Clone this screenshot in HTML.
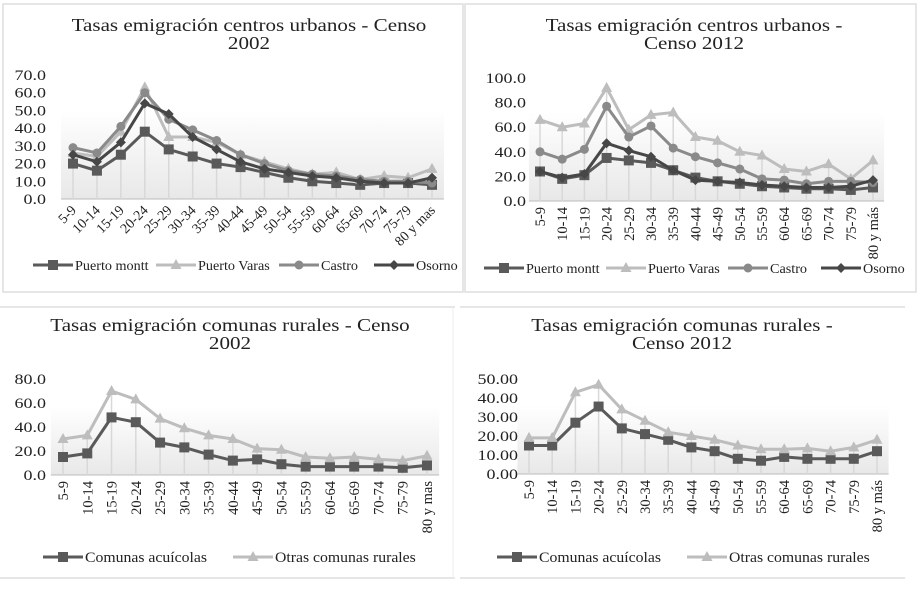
<!DOCTYPE html>
<html><head><meta charset="utf-8">
<style>
html,body{margin:0;padding:0;background:#fff;}
svg{display:block;font-family:"Liberation Serif",serif;}
</style></head>
<body>
<svg id="c" width="919" height="589" viewBox="0 0 919 589" xmlns="http://www.w3.org/2000/svg">
<defs>
<linearGradient id="bg" x1="0" y1="0" x2="0" y2="1">
<stop offset="0" stop-color="#fff"/><stop offset="1" stop-color="#e8e8e8"/>
</linearGradient>
</defs>
<rect x="3" y="4" width="460" height="288" fill="none" stroke="#ddd" stroke-width="1.5"/>
<rect x="465" y="4" width="451" height="288" fill="none" stroke="#ddd" stroke-width="1.5"/>
<line x1="0" y1="307" x2="455" y2="307" stroke="#ddd" stroke-width="1.5"/>
<line x1="0" y1="578" x2="455" y2="578" stroke="#ddd" stroke-width="1.5"/>
<line x1="453" y1="307" x2="453" y2="578" stroke="#eee" stroke-width="1"/>
<line x1="460" y1="307" x2="905" y2="307" stroke="#ddd" stroke-width="1.5"/>
<line x1="460" y1="578" x2="905" y2="578" stroke="#ddd" stroke-width="1.5"/>
</svg>
<script>
const categories2002 = ["5-9","10-14","15-19","20-24","25-29","30-34","35-39","40-44","45-49","50-54","55-59","60-64","65-69","70-74","75-79","80 y mas"];
const categories2012 = ["5-9","10-14","15-19","20-24","25-29","30-34","35-39","40-44","45-49","50-54","55-59","60-64","65-69","70-74","75-79","80 y más"];

const urb02PuertoMontt = [20,16,25,38,28,24,20,18,15,12,10,9,8,9,9,8];
const urb02PuertoVaras = [26,24,38,63,35,35,32,25,21,17,14,15,11,13,12,17];
const urb02Castro = [29,26,41,60,45,39,33,25,20,16,14,13,11,10,10,9];
const urb02Osorno = [25,21,32,54,48,35,28,21,17,15,13,12,10,9,9,12];
const urb02Ticks = ["0.0","10.0","20.0","30.0","40.0","50.0","60.0","70.0"];

const urb12PuertoMontt = [24,18,21,35,33,31,25,19,16,14,12,11,10,10,9,11];
const urb12PuertoVaras = [66,60,63,92,58,70,72,52,49,40,37,26,24,30,18,33];
const urb12Castro = [40,34,42,77,52,61,43,36,31,26,18,17,14,16,16,15];
const urb12Osorno = [24,19,22,47,41,36,25,17,16,15,13,12,11,11,12,17];
const urb12Ticks = ["0.0","20.0","40.0","60.0","80.0","100.0"];

const rur02Acuicolas = [15,18,48,44,27,23,17,12,13,9,7,7,7,7,6,8];
const rur02Otras = [30,33,70,63,47,39,33,30,22,21,15,14,15,13,12,16];
const rur02Ticks = ["0.0","20.0","40.0","60.0","80.0"];

const rur12Acuicolas = [15,15,27,35.5,24,21,18,14,12,8,7,9,8,8,8,12];
const rur12Otras = [19,19,43,47,34,28,22,20,18,15,13,13,13.5,12,14,18];
const rur12Ticks = ["0.00","10.00","20.00","30.00","40.00","50.00"];

const svg = document.getElementById('c');
const NS = 'http://www.w3.org/2000/svg';
function mk(tag, attrs, parent){
  const e = document.createElementNS(NS, tag);
  for (const k in attrs) e.setAttribute(k, attrs[k]);
  (parent||svg).appendChild(e);
  return e;
}
function stretch(t, f){
  const w = t.getComputedTextLength();
  if (w > 0){ t.setAttribute('textLength', (w*f).toFixed(1)); t.setAttribute('lengthAdjust','spacingAndGlyphs'); }
}
function marker(g, kind, x, y, color){
  let e;
  if (kind==='square') e = mk('rect',{x:x-5,y:y-5,width:10,height:10,fill:color},g);
  else if (kind==='tri') e = mk('polygon',{points:`${x},${y-6} ${x-5.5},${y+4} ${x+5.5},${y+4}`,fill:color},g);
  else if (kind==='circle') e = mk('circle',{cx:x,cy:y,r:4.5,fill:color},g);
  else e = mk('polygon',{points:`${x},${y-5} ${x+5},${y} ${x},${y+5} ${x-5},${y}`,fill:color},g);
  return e;
}
function chart(cfg){
  const g = mk('g',{});
  
  
  const n = cfg.cats.length;
  const xs = i => cfg.x0 + (cfg.x1-cfg.x0)*i/(n-1);
  const ys = v => cfg.y0 - (cfg.y0-cfg.yTop)*v/cfg.max;
  cfg.title.forEach((t,i)=>{
    const tt = mk('text',{x:cfg.tx,y:cfg.ty+i*18,'text-anchor':'middle','font-size':18,fill:'#222'},g);
    tt.textContent = t;
    
    
    stretch(tt, 1.17);
  });
  const half = (cfg.x1-cfg.x0)/(n-1)/2;
  const bgr = mk('rect',{x:cfg.x0-half,y:ys(cfg.max*0.72),width:cfg.x1-cfg.x0+2*half,height:cfg.y0-ys(cfg.max*0.72),fill:'url(#bg)'},g);
  
  
  cfg.ticks.forEach((t,i)=>{
    const v = cfg.max*i/(cfg.ticks.length-1);
    const tt = mk('text',{x:cfg.yl,y:ys(v)+5,'text-anchor':'end','font-size':15,fill:'#222'},g);
    tt.textContent = t;
    
    
    stretch(tt, 1.2);
  });
  const ax = mk('line',{x1:cfg.x0-half,y1:cfg.y0,x2:cfg.x1+half,y2:cfg.y0,stroke:'#bbb','stroke-width':1},g);
  
  
  cfg.cats.forEach((c,i)=>{
    const m = Math.max(...cfg.series.map(s=>s.data[i]));
    const dl = mk('line',{x1:xs(i),y1:ys(m),x2:xs(i),y2:cfg.y0,stroke:'#d8d8d8','stroke-width':1.5},g);
    
    
  });
  cfg.cats.forEach((c,i)=>{
    let tt;
    if (cfg.rot===45){
      tt = mk('text',{x:xs(i)+4,y:cfg.y0+12,'text-anchor':'end','font-size':14,fill:'#222',transform:`rotate(-45 ${xs(i)+4} ${cfg.y0+12})`},g);
    } else {
      tt = mk('text',{x:xs(i)+5,y:cfg.y0+6,'text-anchor':'end','font-size':14.5,fill:'#222',transform:`rotate(-90 ${xs(i)+5} ${cfg.y0+6})`},g);
    }
    tt.textContent = c;
    
    
  });
  cfg.series.forEach(s=>{
    const sg = mk('g',{},g);
    
    
    const pl = mk('polyline',{points:s.data.map((v,i)=>xs(i)+','+ys(v)).join(' '),fill:'none',stroke:s.color,'stroke-width':3,'stroke-linejoin':'round'},sg);
    
    
    s.data.forEach((v,i)=>{
      const m = marker(sg, s.mk, xs(i), ys(v), s.color);
      
      
    });
  });
  let lx = cfg.lx;
  cfg.series.forEach((s,k)=>{
    const lg = mk('g',{},g);
    
    
    mk('line',{x1:lx,y1:cfg.ly,x2:lx+40,y2:cfg.ly,stroke:s.color,'stroke-width':3},lg);
    marker(lg, s.mk, lx+20, cfg.ly, s.color);
    const tt = mk('text',{x:lx+42,y:cfg.ly+5,'font-size':cfg.lfs,fill:'#222'},lg);
    tt.textContent = s.label;
    stretch(tt, 1.05);
    lx += cfg.lgap[k];
  });
}
const C_PM='#5a5a5a', C_PV='#bdbdbd', C_CA='#8a8a8a', C_OS='#474747';
chart({name:'chart-urban-2002',cats:categories2002,x0:73,x1:432,y0:199,yTop:75,max:70,ticks:urb02Ticks,yl:46,
  title:['Tasas emigración centros urbanos - Censo','2002'],tx:249,ty:31,rot:45,lx:33,ly:265,lfs:13.5,lgap:[123,123,95,0],
  series:[{key:'puerto-montt',label:'Puerto montt',data:urb02PuertoMontt,color:C_PM,mk:'square'},
    {key:'puerto-varas',label:'Puerto Varas',data:urb02PuertoVaras,color:C_PV,mk:'tri'},
    {key:'castro',label:'Castro',data:urb02Castro,color:C_CA,mk:'circle'},
    {key:'osorno',label:'Osorno',data:urb02Osorno,color:C_OS,mk:'diamond'}]});
chart({name:'chart-urban-2012',cats:categories2012,x0:540,x1:873,y0:201,yTop:78,max:100,ticks:urb12Ticks,yl:526,
  title:['Tasas emigración centros urbanos -','Censo 2012'],tx:694,ty:31,rot:90,lx:484,ly:268,lfs:13.5,lgap:[122,122,93,0],
  series:[{key:'puerto-montt',label:'Puerto montt',data:urb12PuertoMontt,color:C_PM,mk:'square'},
    {key:'puerto-varas',label:'Puerto Varas',data:urb12PuertoVaras,color:C_PV,mk:'tri'},
    {key:'castro',label:'Castro',data:urb12Castro,color:C_CA,mk:'circle'},
    {key:'osorno',label:'Osorno',data:urb12Osorno,color:C_OS,mk:'diamond'}]});
chart({name:'chart-rural-2002',cats:categories2002,x0:63,x1:427,y0:475,yTop:379,max:80,ticks:rur02Ticks,yl:46,
  title:['Tasas emigración comunas rurales - Censo','2002'],tx:230,ty:331,rot:90,lx:43,ly:557,lfs:15,lgap:[190,0],
  series:[{key:'comunas-acuicolas',label:'Comunas acuícolas',data:rur02Acuicolas,color:C_PM,mk:'square'},
    {key:'otras-comunas',label:'Otras comunas rurales',data:rur02Otras,color:C_PV,mk:'tri'}]});
chart({name:'chart-rural-2012',cats:categories2012,x0:529,x1:877,y0:474,yTop:379,max:50,ticks:rur12Ticks,yl:518,
  title:['Tasas emigración comunas rurales -','Censo 2012'],tx:682,ty:331,rot:90,lx:497,ly:557,lfs:15,lgap:[190,0],
  series:[{key:'comunas-acuicolas',label:'Comunas acuícolas',data:rur12Acuicolas,color:C_PM,mk:'square'},
    {key:'otras-comunas',label:'Otras comunas rurales',data:rur12Otras,color:C_PV,mk:'tri'}]});
</script>
</body></html>
